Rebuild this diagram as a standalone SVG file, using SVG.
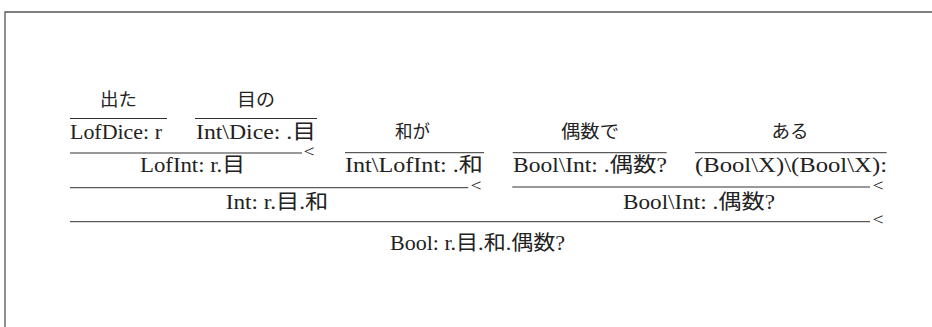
<svg xmlns="http://www.w3.org/2000/svg" width="932" height="327" viewBox="0 0 932 327">
<style>
.t{font-family:"Liberation Serif","Noto Sans CJK JP",serif;font-size:20px;fill:#222;text-anchor:middle}
.j{font-family:"Noto Sans CJK JP",sans-serif;font-size:18px;fill:#222;text-anchor:middle}
.lt{font-family:"Liberation Serif",serif;font-size:16px;fill:#222}
.r{stroke:#333;stroke-width:1;fill:none}
</style>
<rect width="932" height="327" fill="#fff"/>
<path d="M5,327 V12 H932" stroke="#555" stroke-width="1.3" fill="none"/>
<g id="connectors">
<line class="r" x1="70" y1="118.5" x2="167" y2="118.5"/>
<line class="r" x1="195" y1="118.5" x2="317" y2="118.5"/>
<line class="r" x1="70" y1="153" x2="302" y2="153"/>
<text class="lt" x="303.5" y="156.5" textLength="11" lengthAdjust="spacingAndGlyphs">&lt;</text>
<line class="r" x1="345" y1="152.7" x2="484" y2="152.7"/>
<line class="r" x1="512.7" y1="152.7" x2="666.7" y2="152.7"/>
<line class="r" x1="695" y1="152.7" x2="886.7" y2="152.7"/>
<line class="r" x1="70" y1="187.7" x2="468.3" y2="187.7"/>
<text class="lt" x="470.5" y="191.2" textLength="11" lengthAdjust="spacingAndGlyphs">&lt;</text>
<line class="r" x1="512.3" y1="187" x2="870" y2="187"/>
<text class="lt" x="872.5" y="190.5" textLength="11" lengthAdjust="spacingAndGlyphs">&lt;</text>
<line class="r" x1="70" y1="221.7" x2="870" y2="221.7"/>
<text class="lt" x="872.5" y="225.2" textLength="11" lengthAdjust="spacingAndGlyphs">&lt;</text>
</g>
<g id="n-deta"><text class="j" x="118.5" y="105.5" textLength="37" lengthAdjust="spacingAndGlyphs">出た</text></g>
<g id="n-meno"><text class="j" x="256" y="105.5" textLength="38" lengthAdjust="spacingAndGlyphs">目の</text></g>
<g id="n-lofdice"><text class="t" x="116" y="138.5" textLength="92" lengthAdjust="spacingAndGlyphs">LofDice:  r</text></g>
<g id="n-intdice"><text class="t" x="256" y="138.5" textLength="120" lengthAdjust="spacingAndGlyphs">Int\Dice:  .目</text></g>
<g id="n-waga"><text class="j" x="412.5" y="138" textLength="35" lengthAdjust="spacingAndGlyphs">和が</text></g>
<g id="n-gusude"><text class="j" x="590" y="138" textLength="58" lengthAdjust="spacingAndGlyphs">偶数で</text></g>
<g id="n-aru"><text class="j" x="790" y="138" textLength="37" lengthAdjust="spacingAndGlyphs">ある</text></g>
<g id="n-lofint"><text class="t" x="192.5" y="172" textLength="105" lengthAdjust="spacingAndGlyphs">LofInt:  r.目</text></g>
<g id="n-intlofint"><text class="t" x="414" y="172" textLength="138" lengthAdjust="spacingAndGlyphs">Int\LofInt:  .和</text></g>
<g id="n-boolint1"><text class="t" x="590" y="172" textLength="154" lengthAdjust="spacingAndGlyphs">Bool\Int:  .偶数?</text></g>
<g id="n-boolx"><text class="t" x="791" y="172" textLength="192" lengthAdjust="spacingAndGlyphs">(Bool\X)\(Bool\X):</text></g>
<g id="n-int"><text class="t" x="277" y="208.5" textLength="102.6" lengthAdjust="spacingAndGlyphs">Int:  r.目.和</text></g>
<g id="n-boolint2"><text class="t" x="699" y="208.5" textLength="152" lengthAdjust="spacingAndGlyphs">Bool\Int:  .偶数?</text></g>
<g id="n-bool"><text class="t" x="477.5" y="250" textLength="175" lengthAdjust="spacingAndGlyphs">Bool:  r.目.和.偶数?</text></g>
</svg>
